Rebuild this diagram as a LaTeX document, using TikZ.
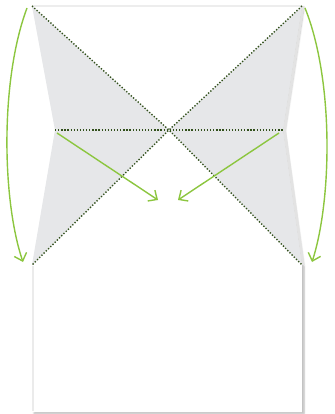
\documentclass[tikz,border=0pt]{standalone}
\usetikzlibrary{arrows.meta,shadows.blur}
\definecolor{leaf}{RGB}{140,198,63}
\definecolor{dotc}{RGB}{50,80,28}
\definecolor{foldgray}{RGB}{230,231,233}
\tikzset{
  greenarrow/.style={draw=leaf,line width=1.4pt,-{Straight Barb[length=7pt,width=13pt,line width=1.4pt]}},
  foldline/.style={draw=dotc,line width=1.4pt,dash pattern=on 1.3pt off 1.8pt},
}
\begin{document}
\begin{tikzpicture}[x=1pt,y=-1pt]
\useasboundingbox (0,0) rectangle (334,414);
% corners
\coordinate (TL) at (32,6);
\coordinate (TR) at (302,6);
\coordinate (ML) at (55,130);
\coordinate (MR) at (283,130);
\coordinate (BL) at (32,265);
\coordinate (BR) at (302,265);
\coordinate (C) at (169,130);
\coordinate (FL) at (32,412);
\coordinate (FR) at (302,412);
% sheet with shadow
\fill[white,blur shadow={shadow xshift=2pt,shadow yshift=-1.5pt,shadow blur steps=6,shadow opacity=30}]
  (TL) -- (TR) -- (MR) -- (BR) -- (FR) -- (FL) -- (BL) -- (ML) -- cycle;
% faint edge shading
\draw[black!8,line width=1.5pt] (33,266) -- (33,411);
\draw[black!7,line width=1.5pt] (TL) -- (TR);
% gray folded triangles
\fill[foldgray] (TL) -- (C) -- (BL) -- (ML) -- cycle;
\fill[foldgray] (TR) -- (C) -- (BR) -- (MR) -- cycle;
% subtle shadow at right pinched edge
\fill[black!11] (TR) -- (MR) -- (BR) -- (304.5,265) -- (286,130) -- (304.5,6) -- cycle;
% fold lines
\draw[foldline] (TL) -- (C) -- (BR);
\draw[foldline] (TR) -- (C) -- (BL);
\draw[foldline] (ML) -- (MR);
% green arrows
\coordinate (a1s) at (27,8);
\coordinate (a1e) at (23,262);
\coordinate (a2s) at (305,8);
\coordinate (a2e) at (312,262);
\coordinate (a3s) at (57,133);
\coordinate (a3e) at (158,200);
\coordinate (a4s) at (279,133);
\coordinate (a4e) at (178,200);
\draw[greenarrow] (a1s) .. controls (0,80) and (2,200) .. (a1e);
\draw[greenarrow] (a2s) .. controls (334,80) and (332,200) .. (a2e);
\draw[greenarrow] (a3s) -- (a3e);
\draw[greenarrow] (a4s) -- (a4e);
\end{tikzpicture}
\end{document}
